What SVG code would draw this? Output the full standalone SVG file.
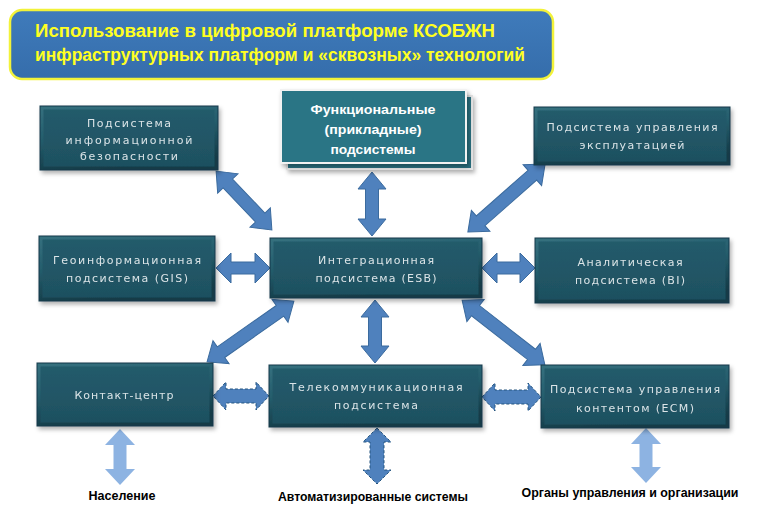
<svg xmlns="http://www.w3.org/2000/svg" width="760" height="513" viewBox="0 0 760 513">
<defs>
<filter id="sh" x="-10%" y="-10%" width="125%" height="130%"><feDropShadow dx="2" dy="3" stdDeviation="2" flood-color="#000" flood-opacity="0.3"/></filter>
<linearGradient id="bev" x1="0" y1="0" x2="0.3" y2="1"><stop offset="0" stop-color="#36717f"/><stop offset="0.5" stop-color="#245c6b"/><stop offset="1" stop-color="#143b47"/></linearGradient>
<linearGradient id="inner" x1="0" y1="0" x2="0" y2="1"><stop offset="0" stop-color="#245b6b"/><stop offset="0.5" stop-color="#215666"/><stop offset="1" stop-color="#1e5060"/></linearGradient>
<linearGradient id="title" x1="0" y1="0" x2="0" y2="1"><stop offset="0" stop-color="#3f7bbb"/><stop offset="1" stop-color="#356dab"/></linearGradient>
</defs>
<style>
.out{fill:url(#bev);stroke:#15394a;stroke-width:1}
.in{fill:url(#inner)}
.t{font-family:"DejaVu Sans","Liberation Sans",sans-serif;font-size:11px;fill:#dbe4e7;text-anchor:middle}
.tb{font-family:"Liberation Sans","DejaVu Sans",sans-serif;font-size:13px;font-weight:bold;fill:#ffffff;text-anchor:middle}
.tt{font-family:"Liberation Sans","DejaVu Sans",sans-serif;font-size:18px;font-weight:bold;fill:#ffff22}
.bl{font-family:"Liberation Sans","DejaVu Sans",sans-serif;font-size:12px;font-weight:bold;fill:#000;text-anchor:middle}
.ar{fill:#4f81bd;stroke:#3b6b9e;stroke-width:1}
.ad{fill:#4f81bd;stroke:#24557f;stroke-width:1;stroke-dasharray:3 2}
.al{fill:#8db3e2}
</style>

<g id="title-box">
<rect x="10" y="10" width="543" height="69" rx="12" fill="url(#title)" stroke="#f2f23a" stroke-width="2.5"/>
<text class="tt" x="35" y="37" textLength="460" lengthAdjust="spacingAndGlyphs">Использование в цифровой платформе КСОБЖН</text>
<text class="tt" x="35" y="61" textLength="490" lengthAdjust="spacingAndGlyphs">инфраструктурных платформ и «сквозных» технологий</text>
</g>

<g id="connectors">
<path class="ar" transform="translate(244,200.5) rotate(46.5)" d="M-40.5 0L-23.5 -14V-6.5H23.5V-14L40.5 0L23.5 14V6.5H-23.5V14Z"/>
<path class="ar" transform="translate(372,204) rotate(90)" d="M-32 0L-15 -14V-6.5H15V-14L32 0L15 14V6.5H-15V14Z"/>
<path class="ar" transform="translate(506.5,198) rotate(138.6)" d="M-51.5 0L-34.5 -14V-6.5H34.5V-14L51.5 0L34.5 14V6.5H-34.5V14Z"/>
<path class="ar" transform="translate(243,268)" d="M-27 0L-12 -15V-6H12V-15L27 0L12 15V6H-12V15Z"/>
<path class="ar" transform="translate(508.5,268)" d="M-26.5 0L-11.5 -15V-6H11.5V-15L26.5 0L11.5 15V6H-11.5V15Z"/>
<path class="ar" transform="translate(250.5,331.5) rotate(145)" d="M-53 0L-36 -14V-6.5H36V-14L53 0L36 14V6.5H-36V14Z"/>
<path class="ar" transform="translate(375,331.5) rotate(90)" d="M-31.5 0L-14.5 -14V-6.5H14.5V-14L31.5 0L14.5 14V6.5H-14.5V14Z"/>
<path class="ar" transform="translate(503.5,332.5) rotate(38)" d="M-52.5 0L-35.5 -14V-6.5H35.5V-14L52.5 0L35.5 14V6.5H-35.5V14Z"/>
<path class="ad" transform="translate(241,396)" d="M-28 0L-15 -14V-7H15V-14L28 0L15 14V7H-15V14Z"/>
<path class="ad" transform="translate(511.5,397)" d="M-29.5 0L-16.5 -14V-7H16.5V-14L29.5 0L16.5 14V7H-16.5V14Z"/>
<path class="al" transform="translate(120,457) rotate(90)" d="M-28 0L-12 -15V-6.5H12V-15L28 0L12 15V6.5H-12V15Z"/>
<path class="ad" transform="translate(377,456) rotate(90)" d="M-28 0L-14 -14V-7H14V-14L28 0L14 14V7H-14V14Z"/>
<path class="al" transform="translate(646,455.5) rotate(90)" d="M-27.5 0L-11.5 -15V-6.5H11.5V-15L27.5 0L11.5 15V6.5H-11.5V15Z"/>
</g>

<g id="node-infosec" filter="url(#sh)">
<rect class="out" x="40" y="106" width="178" height="64"/>
<rect class="in" x="43.5" y="109.5" width="171" height="57"/>
<text class="t" x="129" y="127" textLength="84" lengthAdjust="spacing">Подсистема</text>
<text class="t" x="129" y="143.5" textLength="127" lengthAdjust="spacing">информационной</text>
<text class="t" x="129" y="160" textLength="98" lengthAdjust="spacing">безопасности</text>
</g>

<g id="node-functional">
<rect x="287" y="96" width="185" height="73" fill="#2a6f80" stroke="#e4e4e4" stroke-width="2" filter="url(#sh)"/>
<rect x="281" y="90" width="185" height="73" fill="#2c7485" stroke="#f2f2f2" stroke-width="2" filter="url(#sh)"/>
<text class="tb" x="373" y="114" textLength="125" lengthAdjust="spacingAndGlyphs">Функциональные</text>
<text class="tb" x="373" y="134" textLength="97" lengthAdjust="spacingAndGlyphs">(прикладные)</text>
<text class="tb" x="373" y="154" textLength="85" lengthAdjust="spacingAndGlyphs">подсистемы</text>
</g>

<g id="node-operation" filter="url(#sh)">
<rect class="out" x="534" y="107" width="196" height="58"/>
<rect class="in" x="537.5" y="110.5" width="189" height="51"/>
<text class="t" x="632" y="131" textLength="171" lengthAdjust="spacing">Подсистема управления</text>
<text class="t" x="632" y="149" textLength="105" lengthAdjust="spacing">эксплуатацией</text>
</g>

<g id="node-gis" filter="url(#sh)">
<rect class="out" x="39" y="236" width="176" height="65"/>
<rect class="in" x="42.5" y="239.5" width="169" height="58"/>
<text class="t" x="127" y="264" textLength="148" lengthAdjust="spacing">Геоинформационная</text>
<text class="t" x="127" y="282" textLength="122" lengthAdjust="spacing">подсистема (GIS)</text>
</g>

<g id="node-esb" filter="url(#sh)">
<rect class="out" x="270" y="238" width="212" height="60"/>
<rect class="in" x="273.5" y="241.5" width="205" height="53"/>
<text class="t" x="376" y="264" textLength="116" lengthAdjust="spacing">Интеграционная</text>
<text class="t" x="376" y="282" textLength="121" lengthAdjust="spacing">подсистема (ESB)</text>
</g>

<g id="node-bi" filter="url(#sh)">
<rect class="out" x="535" y="238" width="194" height="65"/>
<rect class="in" x="538.5" y="241.5" width="187" height="58"/>
<text class="t" x="630" y="266" textLength="105" lengthAdjust="spacing">Аналитическая</text>
<text class="t" x="630" y="284" textLength="110" lengthAdjust="spacing">подсистема (BI)</text>
</g>

<g id="node-contact" filter="url(#sh)">
<rect class="out" x="37" y="363" width="176" height="63"/>
<rect class="in" x="40.5" y="366.5" width="169" height="56"/>
<text class="t" x="124" y="399" textLength="99" lengthAdjust="spacing">Контакт-центр</text>
</g>

<g id="node-telecom" filter="url(#sh)">
<rect class="out" x="269" y="365" width="213" height="62"/>
<rect class="in" x="272.5" y="368.5" width="206" height="55"/>
<text class="t" x="376" y="391" textLength="173" lengthAdjust="spacing">Телекоммуникационная</text>
<text class="t" x="376" y="409" textLength="84" lengthAdjust="spacing">подсистема</text>
</g>

<g id="node-ecm" filter="url(#sh)">
<rect class="out" x="541" y="365" width="188" height="63"/>
<rect class="in" x="544.5" y="368.5" width="181" height="56"/>
<text class="t" x="635" y="393" textLength="170" lengthAdjust="spacing">Подсистема управления</text>
<text class="t" x="635" y="412" textLength="118" lengthAdjust="spacing">контентом (ECM)</text>
</g>

<g id="labels">
<text class="bl" x="122" y="500" textLength="67" lengthAdjust="spacingAndGlyphs">Население</text>
<text class="bl" x="373" y="501" textLength="190" lengthAdjust="spacingAndGlyphs">Автоматизированные системы</text>
<text class="bl" x="630" y="497" textLength="217" lengthAdjust="spacingAndGlyphs">Органы управления и организации</text>
</g>
</svg>
